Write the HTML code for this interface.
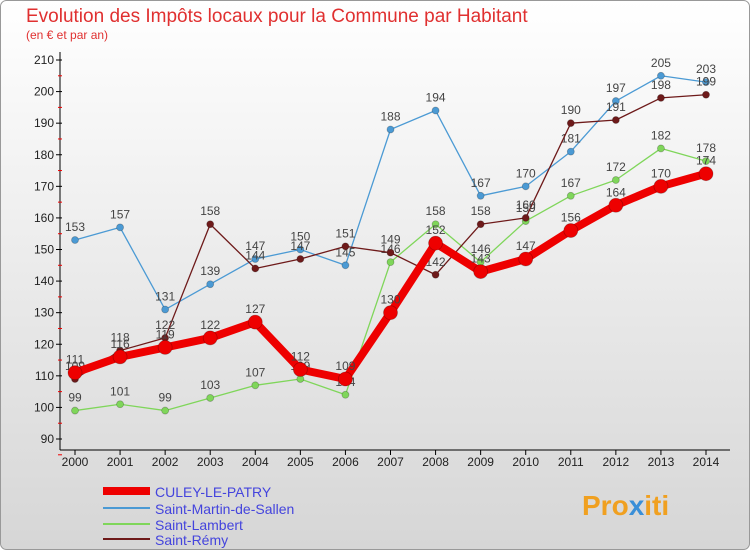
<!DOCTYPE html>
<html><head><meta charset="utf-8"><style>
body{margin:0;width:750px;height:550px;overflow:hidden;font-family:"Liberation Sans",sans-serif}
svg text{font-family:"Liberation Sans",sans-serif}
</style></head><body>
<svg id="c" width="750" height="550" xmlns="http://www.w3.org/2000/svg">
<defs><linearGradient id="bg" x1="0" y1="0" x2="0" y2="1"><stop offset="0" stop-color="#ffffff"/><stop offset="1" stop-color="#d6d6d6"/></linearGradient></defs>
<rect x="0.5" y="0.5" width="749" height="549" rx="6" fill="url(#bg)" stroke="#999"/>
<text x="26" y="22" font-size="19" fill="#e03030">Evolution des Impôts locaux pour la Commune par Habitant</text>
<text x="26" y="39" font-size="12" fill="#e03030">(en € et par an)</text>
<g id="axes"></g><g id="series"></g>
<g>
<line x1="103" y1="491" x2="150" y2="491" stroke="#ee0000" stroke-width="8"/>
<text x="155" y="497" font-size="14" fill="#4444dd">CULEY-LE-PATRY</text>
<line x1="103" y1="508" x2="150" y2="508" stroke="#4b9ad4" stroke-width="2"/>
<text x="155" y="514" font-size="14" fill="#4444dd">Saint-Martin-de-Sallen</text>
<line x1="103" y1="524" x2="150" y2="524" stroke="#7fd65a" stroke-width="2"/>
<text x="155" y="530" font-size="14" fill="#4444dd">Saint-Lambert</text>
<line x1="103" y1="539" x2="150" y2="539" stroke="#6e1a1a" stroke-width="2"/>
<text x="155" y="545" font-size="14" fill="#4444dd">Saint-Rémy</text>
</g>
<text x="582" y="515" font-size="28" font-weight="bold" fill="#f0a020">Pro<tspan fill="#3a8fd8">x</tspan>iti</text>
</svg>
<script>
const years=[2000,2001,2002,2003,2004,2005,2006,2007,2008,2009,2010,2011,2012,2013,2014];
const yTicks=[90,100,110,120,130,140,150,160,170,180,190,200,210];
const culey=[111,116,119,122,127,112,109,130,152,143,147,156,164,170,174];
const stMartin=[153,157,131,139,147,150,145,188,194,167,170,181,197,205,203];
const stLambert=[99,101,99,103,107,109,104,146,158,146,159,167,172,182,178];
const stRemy=[109,118,122,158,144,147,151,149,142,158,160,190,191,198,199];
const NS='http://www.w3.org/2000/svg';
const xS=i=>75+i*(706-75)/14;
const yS=v=>60+(210-v)*(439-60)/120;
function mk(t,a,p){const e=document.createElementNS(NS,t);for(const k in a)e.setAttribute(k,a[k]);p.appendChild(e);return e;}
const ax=document.getElementById('axes');
const yl=mk('line',{x1:60,y1:52,x2:60,y2:450,stroke:'#000'},ax);


const xl=mk('line',{x1:60,y1:450,x2:730,y2:450,stroke:'#000'},ax);


yTicks.forEach(v=>{const y=yS(v);
mk('line',{x1:56,y1:y,x2:62,y2:y,stroke:'#000'},ax);
mk('line',{x1:58,y1:y+15.8,x2:62,y2:y+15.8,stroke:'#e00'},ax);
const t=mk('text',{x:54,y:y+4,'font-size':12,'text-anchor':'end',fill:'#222'},ax);t.textContent=v;

});
years.forEach((yr,i)=>{const x=xS(i);
mk('line',{x1:x,y1:450,x2:x,y2:455,stroke:'#000'},ax);
const t=mk('text',{x:x,y:466,'font-size':12,'text-anchor':'middle',fill:'#222'},ax);t.textContent=yr;

});
const sg=document.getElementById('series');
function draw(vals,color,w,r,name){const g=mk('g',{},sg);


mk('polyline',{points:vals.map((v,i)=>xS(i)+','+yS(v)).join(' '),fill:'none',stroke:color,'stroke-width':w,'stroke-linejoin':'round'},g);
vals.forEach((v,i)=>{const c=mk('circle',{cx:xS(i),cy:yS(v),r:r,fill:color,stroke:'rgba(0,0,0,0.25)','stroke-width':0.8},g);


const t=mk('text',{x:xS(i),y:yS(v)-9,'font-size':12,'text-anchor':'middle',fill:'#444'},g);t.textContent=v;

});}
draw(stMartin,'#4b9ad4',1.3,3.5,'series-saint-martin');
draw(stLambert,'#7fd65a',1.3,3.5,'series-saint-lambert');
draw(stRemy,'#6e1a1a',1.3,3.5,'series-saint-remy');
draw(culey,'#ee0000',8,7,'series-culey');
</script>
</body></html>
